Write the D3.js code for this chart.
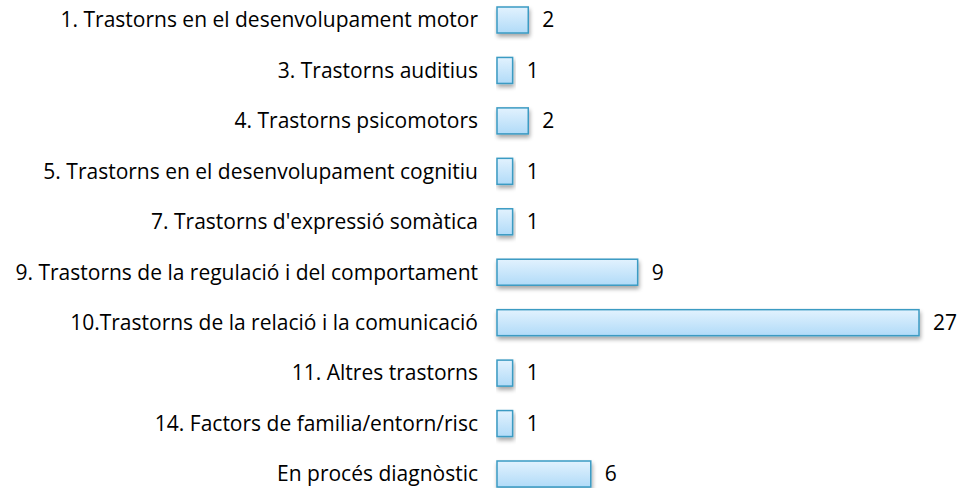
<!DOCTYPE html>
<html>
<head>
<meta charset="utf-8">
<script src="https://cdn.jsdelivr.net/npm/d3@7"></script>
<style>
  body { margin: 0; background: #fff; }
  text { font-family: "Open Sans", "Liberation Sans", sans-serif; fill: #000; }
</style>
</head>
<body>
<div id="chart"></div>
<script>
// categories and values, top to bottom
const categories = [
  "1. Trastorns en el desenvolupament motor",
  "3. Trastorns auditius",
  "4. Trastorns psicomotors",
  "5. Trastorns en el desenvolupament cognitiu",
  "7. Trastorns d'expressió somàtica",
  "9. Trastorns de la regulació i del comportament",
  "10.Trastorns de la relació i la comunicació",
  "11. Altres trastorns",
  "14. Factors de familia/entorn/risc",
  "En procés diagnòstic"
];
const values = [2, 1, 2, 1, 1, 9, 27, 1, 1, 6];

const width = 962, height = 488;

let svg = d3.select("#chart").append("svg")
  .attr("width", width)
  .attr("height", height);

const defs = svg.append("defs");
let grad = defs.append("linearGradient")
  .attr("id", "barGrad")
  .attr("x1", 0).attr("y1", 0).attr("x2", 0).attr("y2", 1);
grad.append("stop").attr("offset", "0%").attr("stop-color", "#e2f2fe");
grad.append("stop").attr("offset", "100%").attr("stop-color", "#b1dbf8");

let shadow = defs.append("filter").attr("id", "shadow")
  .attr("x", "-10%").attr("y", "-20%").attr("width", "130%").attr("height", "160%");
shadow.append("feGaussianBlur").attr("in", "SourceAlpha").attr("stdDeviation", 2);
shadow.append("feOffset").attr("dx", 1).attr("dy", 3).attr("result", "blur");
shadow.append("feComponentTransfer").append("feFuncA").attr("type", "linear").attr("slope", 0.35);
let merge = shadow.append("feMerge");
merge.append("feMergeNode");
merge.append("feMergeNode").attr("in", "SourceGraphic");

// scales
const x = d3.scaleLinear().domain([0, 27]).range([497, 919]);
const y = d3.scalePoint().domain(categories).range([20, 474]);
const barH = 26;

const data = categories.map((c, i) => ({ cat: c, val: values[i] }));

// bars
svg.append("g").selectAll("rect")
  .data(data)
  .enter()
  .append("rect")
  .attr("x", x(0))
  .attr("y", d => y(d.cat) - barH / 2)
  .attr("width", d => x(d.val) - x(0))
  .attr("height", barH)
  .attr("fill", "url(#barGrad)")
  .attr("stroke", "#3b9bc3")
  .attr("stroke-width", 1.5)
  .attr("filter", "url(#shadow)");

// category labels
svg.append("g").selectAll("text")
  .data(data)
  .enter()
  .append("text")
  .attr("x", 478)
  .attr("y", d => y(d.cat))
  .attr("dy", "0.35em")
  .attr("text-anchor", "end")
  .style("font-size", "21px")
  .text(d => d.cat);

// value labels
svg.append("g").selectAll("text")
  .data(data)
  .enter()
  .append("text")
  .attr("x", d => x(d.val) + 14)
  .attr("y", d => y(d.cat))
  .attr("dy", "0.35em")
  .style("font-size", "21px")
  .text(d => d.val);
</script>
</body>
</html>
